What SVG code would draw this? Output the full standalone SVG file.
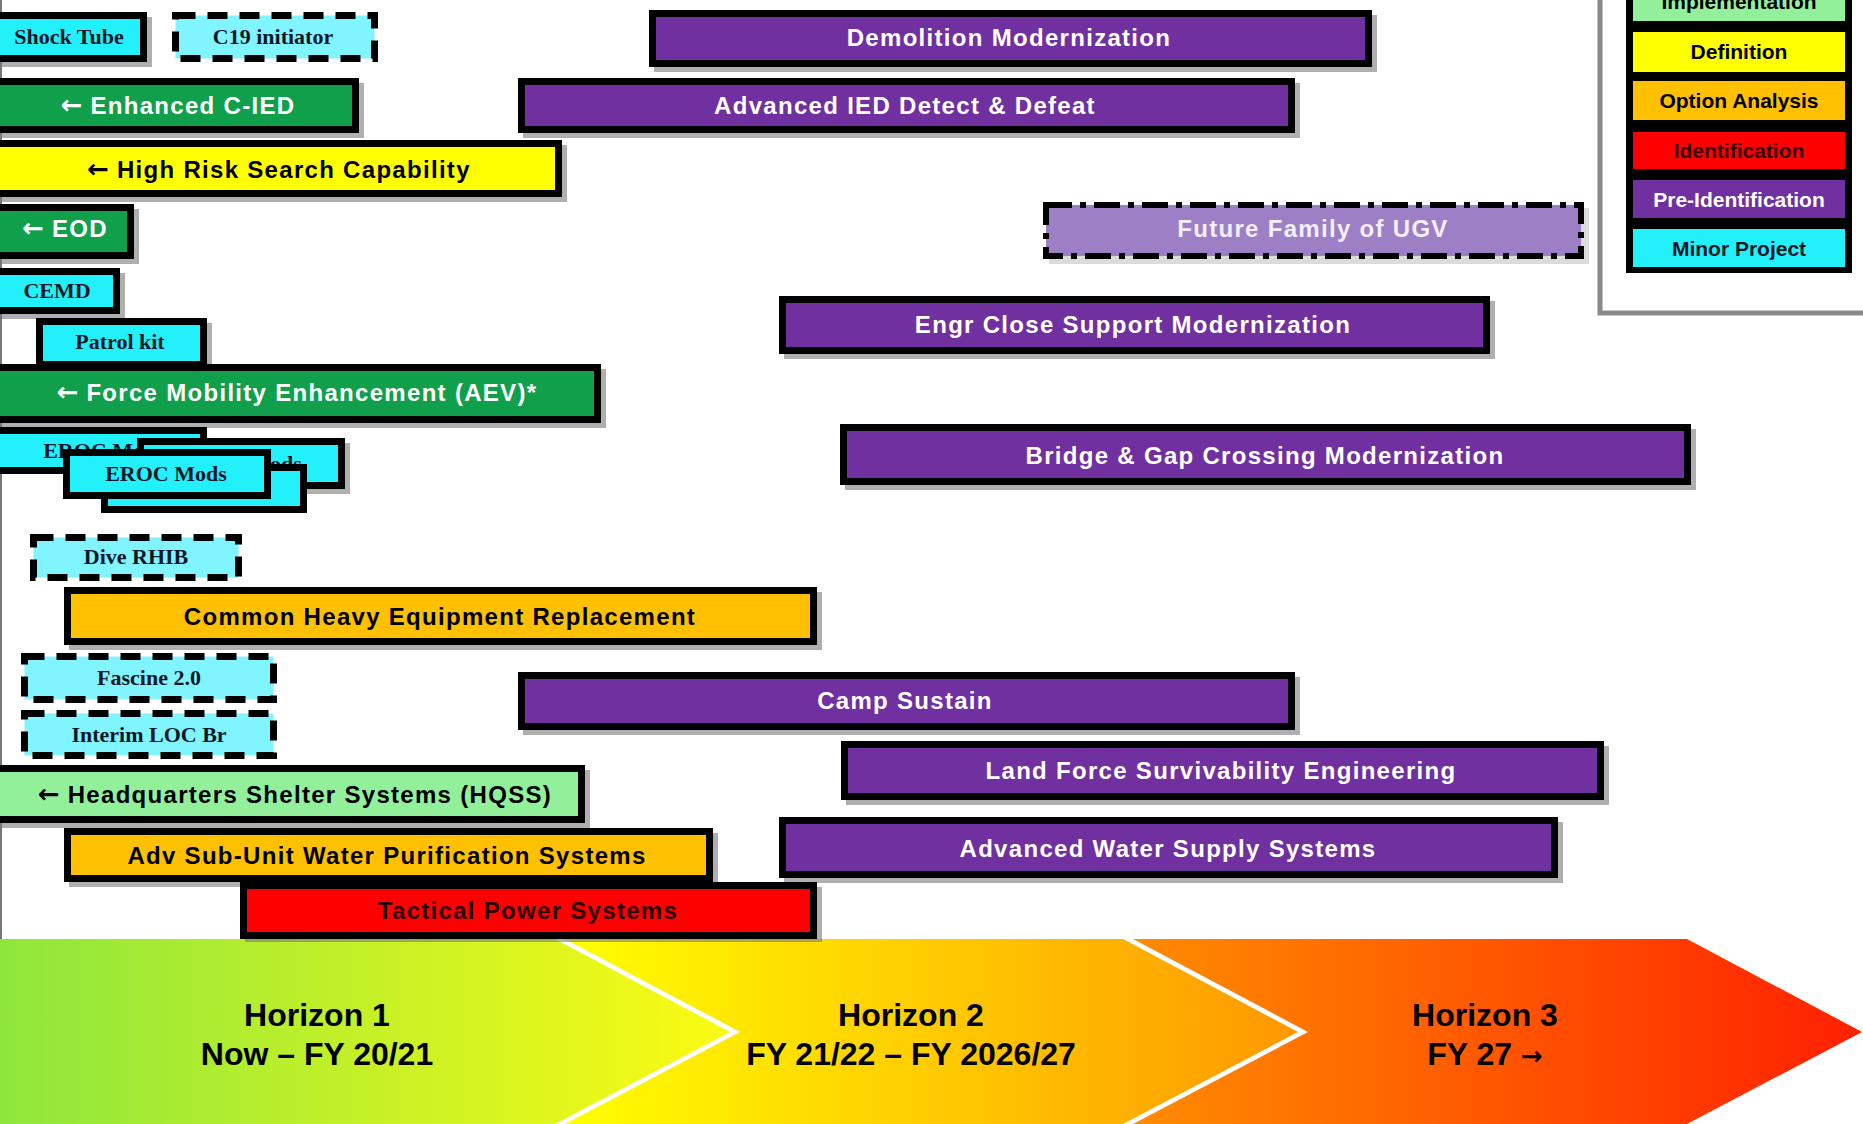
<svg xmlns="http://www.w3.org/2000/svg" width="1863" height="1124" viewBox="0 0 1863 1124">
<defs>
<linearGradient id="g1" x1="0" y1="0" x2="730" y2="0" gradientUnits="userSpaceOnUse"><stop offset="0" stop-color="#8ee63c"/><stop offset="1" stop-color="#fbfb12"/></linearGradient>
<linearGradient id="g2" x1="565" y1="0" x2="1298" y2="0" gradientUnits="userSpaceOnUse"><stop offset="0" stop-color="#ffff00"/><stop offset="1" stop-color="#ff9800"/></linearGradient>
<linearGradient id="g3" x1="1133" y1="0" x2="1862" y2="0" gradientUnits="userSpaceOnUse"><stop offset="0" stop-color="#ff8c00"/><stop offset="1" stop-color="#ff2000"/></linearGradient>
<style>
.bar{stroke:#000;stroke-width:7}
.sh{fill:#7a7a7a;opacity:0.6}
.dash{stroke:#000;stroke-width:7;stroke-dasharray:20 12;fill:#80f4ff}
.pur{fill:#7030a0}.grn{fill:#10a04c}.yel{fill:#ffff00}.org{fill:#ffc000}.red{fill:#ff0000}.cyn{fill:#22f0fa}.lgr{fill:#92f09a}
.t{font-family:"Liberation Sans",Arial,sans-serif;font-weight:bold;font-size:24px;letter-spacing:1.3px;text-anchor:middle}
.ar{font-family:"DejaVu Sans",sans-serif;font-weight:bold;font-size:26px;letter-spacing:0}
.w{fill:#ffffff}.k{fill:#000000}
.m{font-family:"Liberation Serif","Times New Roman",serif;font-weight:bold;font-size:22px;text-anchor:middle;fill:#101828}
.lg{font-family:"Liberation Sans",Arial,sans-serif;font-weight:bold;font-size:21px;text-anchor:middle}
.hz{font-family:"Liberation Sans",Arial,sans-serif;font-weight:bold;font-size:32px;text-anchor:middle;fill:#000}
</style>
</defs>
<rect x="0" y="0" width="1863" height="1124" fill="#ffffff"/>
<rect x="0" y="0" width="2" height="940" fill="#777"/>

<g id="horizons">
<polygon points="-5,939 555,939 730,1032 555,1124 -5,1124" fill="url(#g1)"/>
<polygon points="565,939 1123,939 1298,1032 1123,1124 565,1124 740,1032" fill="url(#g2)"/>
<polygon points="1133,939 1687,939 1862,1032 1687,1124 1133,1124 1308,1032" fill="url(#g3)"/>
<text class="hz" x="317" y="1026">Horizon 1</text>
<text class="hz" x="317" y="1065">Now – FY 20/21</text>
<text class="hz" x="911" y="1026">Horizon 2</text>
<text class="hz" x="911" y="1065">FY 21/22 – FY 2026/27</text>
<text class="hz" x="1485" y="1026">Horizon 3</text>
<text class="hz" x="1485" y="1065">FY 27 <tspan class="ar" font-size="34">→</tspan></text>
</g>

<g id="legend">
<rect x="1600" y="-20" width="300" height="333" fill="#fff" stroke="#8a8a8a" stroke-width="5"/>
<rect x="1626" y="-10" width="226" height="283" fill="#000"/>
<rect x="1633" y="-10" width="212" height="31" class="lgr"/>
<text class="lg k" x="1739" y="9">Implementation</text>
<rect x="1633" y="32" width="212" height="40" class="yel"/>
<text class="lg k" x="1739" y="59">Definition</text>
<rect x="1633" y="81" width="212" height="39" class="org"/>
<text class="lg k" x="1739" y="108">Option Analysis</text>
<rect x="1633" y="132" width="212" height="37" class="red"/>
<text class="lg" fill="#3a0000" x="1739" y="158">Identification</text>
<rect x="1633" y="180" width="212" height="38" class="pur"/>
<text class="lg w" x="1739" y="207">Pre-Identification</text>
<rect x="1633" y="229" width="212" height="38" class="cyn"/>
<text class="lg" fill="#101828" x="1739" y="256">Minor Project</text>
</g>

<g id="connectors"></g>

<g id="shock-tube"><rect class="sh" x="-5" y="17" width="157" height="50"/><rect class="bar cyn" x="-6.5" y="15.5" width="150" height="43"/><text class="m" x="69" y="44">Shock Tube</text></g>
<g id="c19-initiator"><rect class="dash" x="175.5" y="15.5" width="199" height="43"/><text class="m" x="273" y="44">C19 initiator</text></g>
<g id="demolition-modernization"><rect class="sh" x="654" y="15" width="723" height="57"/><rect class="bar pur" x="652.5" y="13.5" width="716" height="50"/><text class="t w" x="1009" y="46">Demolition Modernization</text></g>
<g id="enhanced-cied"><rect class="sh" x="-5" y="83" width="369" height="55"/><rect class="bar grn" x="-6.5" y="81.5" width="362" height="48"/><text class="t w" x="178" y="114"><tspan class="ar">←</tspan> Enhanced C-IED</text></g>
<g id="advanced-ied"><rect class="sh" x="523" y="83" width="777" height="55"/><rect class="bar pur" x="521.5" y="81.5" width="770" height="48"/><text class="t w" x="905" y="114">Advanced IED Detect &amp; Defeat</text></g>
<g id="high-risk-search"><rect class="sh" x="-5" y="145" width="572" height="57"/><rect class="bar yel" x="-6.5" y="143.5" width="565" height="50"/><text class="t k" x="279" y="178"><tspan class="ar">←</tspan> High Risk Search Capability</text></g>
<g id="eod"><rect class="sh" x="-5" y="209" width="144" height="55"/><rect class="bar grn" x="-6.5" y="207.5" width="137" height="48"/><text class="t w" x="65" y="237"><tspan class="ar">←</tspan> EOD</text></g>
<g id="future-ugv"><rect x="1049" y="208" width="540" height="56" fill="#b8b8b8" opacity="0.5"/><rect x="1046" y="205" width="535" height="51" fill="#9d7fc6" stroke="#000" stroke-width="6" stroke-dasharray="26 8 6 8"/><text class="t" fill="#f4efff" x="1313" y="237">Future Family of UGV</text></g>
<g id="cemd"><rect class="sh" x="-5" y="273" width="130" height="46"/><rect class="bar cyn" x="-6.5" y="271.5" width="123" height="39"/><text class="m" x="57" y="298">CEMD</text></g>
<g id="engr-close-support"><rect class="sh" x="784" y="301" width="711" height="58"/><rect class="bar pur" x="782.5" y="299.5" width="704" height="51"/><text class="t w" x="1133" y="333">Engr Close Support Modernization</text></g>
<g id="patrol-kit"><rect class="sh" x="41" y="323" width="171" height="50"/><rect class="bar cyn" x="39.5" y="321.5" width="164" height="43"/><text class="m" x="120" y="349">Patrol kit</text></g>
<g id="force-mobility"><rect class="sh" x="-5" y="369" width="611" height="59"/><rect class="bar grn" x="-6.5" y="367.5" width="604" height="52"/><text class="t w" x="297" y="401"><tspan class="ar">←</tspan> Force Mobility Enhancement (AEV)*</text></g>
<g id="bridge-gap"><rect class="sh" x="845" y="429" width="851" height="61"/><rect class="bar pur" x="843.5" y="427.5" width="844" height="54"/><text class="t w" x="1265" y="464">Bridge &amp; Gap Crossing Modernization</text></g>
<g id="eroc-mods-a"><rect class="bar cyn" x="-6.5" y="430.5" width="210" height="40"/><text class="m" x="104" y="458">EROC Mods</text></g>
<g id="eroc-mods-b"><rect class="sh" x="142" y="443" width="208" height="51"/><rect class="bar cyn" x="140.5" y="441.5" width="201" height="44"/><text class="m" x="241" y="471">EROC Mods</text></g>
<g id="eroc-mods-c"><rect class="bar cyn" x="104.5" y="467.5" width="199" height="42"/><text class="m" x="204" y="496">EROC Mods</text></g>
<g id="eroc-mods-d"><rect class="bar cyn" x="66.5" y="452.5" width="201" height="43"/><text class="m" x="166" y="481">EROC Mods</text></g>
<g id="dive-rhib"><rect class="dash" x="33.5" y="537.5" width="205" height="40"/><text class="m" x="136" y="564">Dive RHIB</text></g>
<g id="common-heavy-equipment"><rect class="sh" x="69" y="592" width="753" height="58"/><rect class="bar org" x="67.5" y="590.5" width="746" height="51"/><text class="t k" x="440" y="625">Common Heavy Equipment Replacement</text></g>
<g id="fascine"><rect class="dash" x="24.5" y="656.5" width="249" height="43"/><text class="m" x="149" y="685">Fascine 2.0</text></g>
<g id="camp-sustain"><rect class="sh" x="523" y="677" width="777" height="58"/><rect class="bar pur" x="521.5" y="675.5" width="770" height="51"/><text class="t w" x="905" y="709">Camp Sustain</text></g>
<g id="interim-loc"><rect class="dash" x="24.5" y="713.5" width="249" height="42"/><text class="m" x="149" y="742">Interim LOC Br</text></g>
<g id="land-force-survivability"><rect class="sh" x="846" y="746" width="763" height="59"/><rect class="bar pur" x="844.5" y="744.5" width="756" height="52"/><text class="t w" x="1221" y="779">Land Force Survivability Engineering</text></g>
<g id="hqss"><rect class="sh" x="-5" y="770" width="595" height="58"/><rect class="bar lgr" x="-6.5" y="768.5" width="588" height="51"/><text class="t k" x="295" y="803"><tspan class="ar">←</tspan> Headquarters Shelter Systems (HQSS)</text></g>
<g id="adv-water-supply"><rect class="sh" x="784" y="822" width="779" height="61"/><rect class="bar pur" x="782.5" y="820.5" width="772" height="54"/><text class="t w" x="1168" y="857">Advanced Water Supply Systems</text></g>
<g id="adv-sub-unit-water"><rect class="sh" x="69" y="833" width="649" height="54"/><rect class="bar org" x="67.5" y="831.5" width="642" height="47"/><text class="t k" x="387" y="864">Adv Sub-Unit Water Purification Systems</text></g>
<g id="tactical-power"><rect class="sh" x="245" y="887" width="577" height="55"/><rect class="bar red" x="243.5" y="885.5" width="570" height="50"/><text class="t" fill="#2a0000" x="528" y="919">Tactical Power Systems</text></g>
</svg>
